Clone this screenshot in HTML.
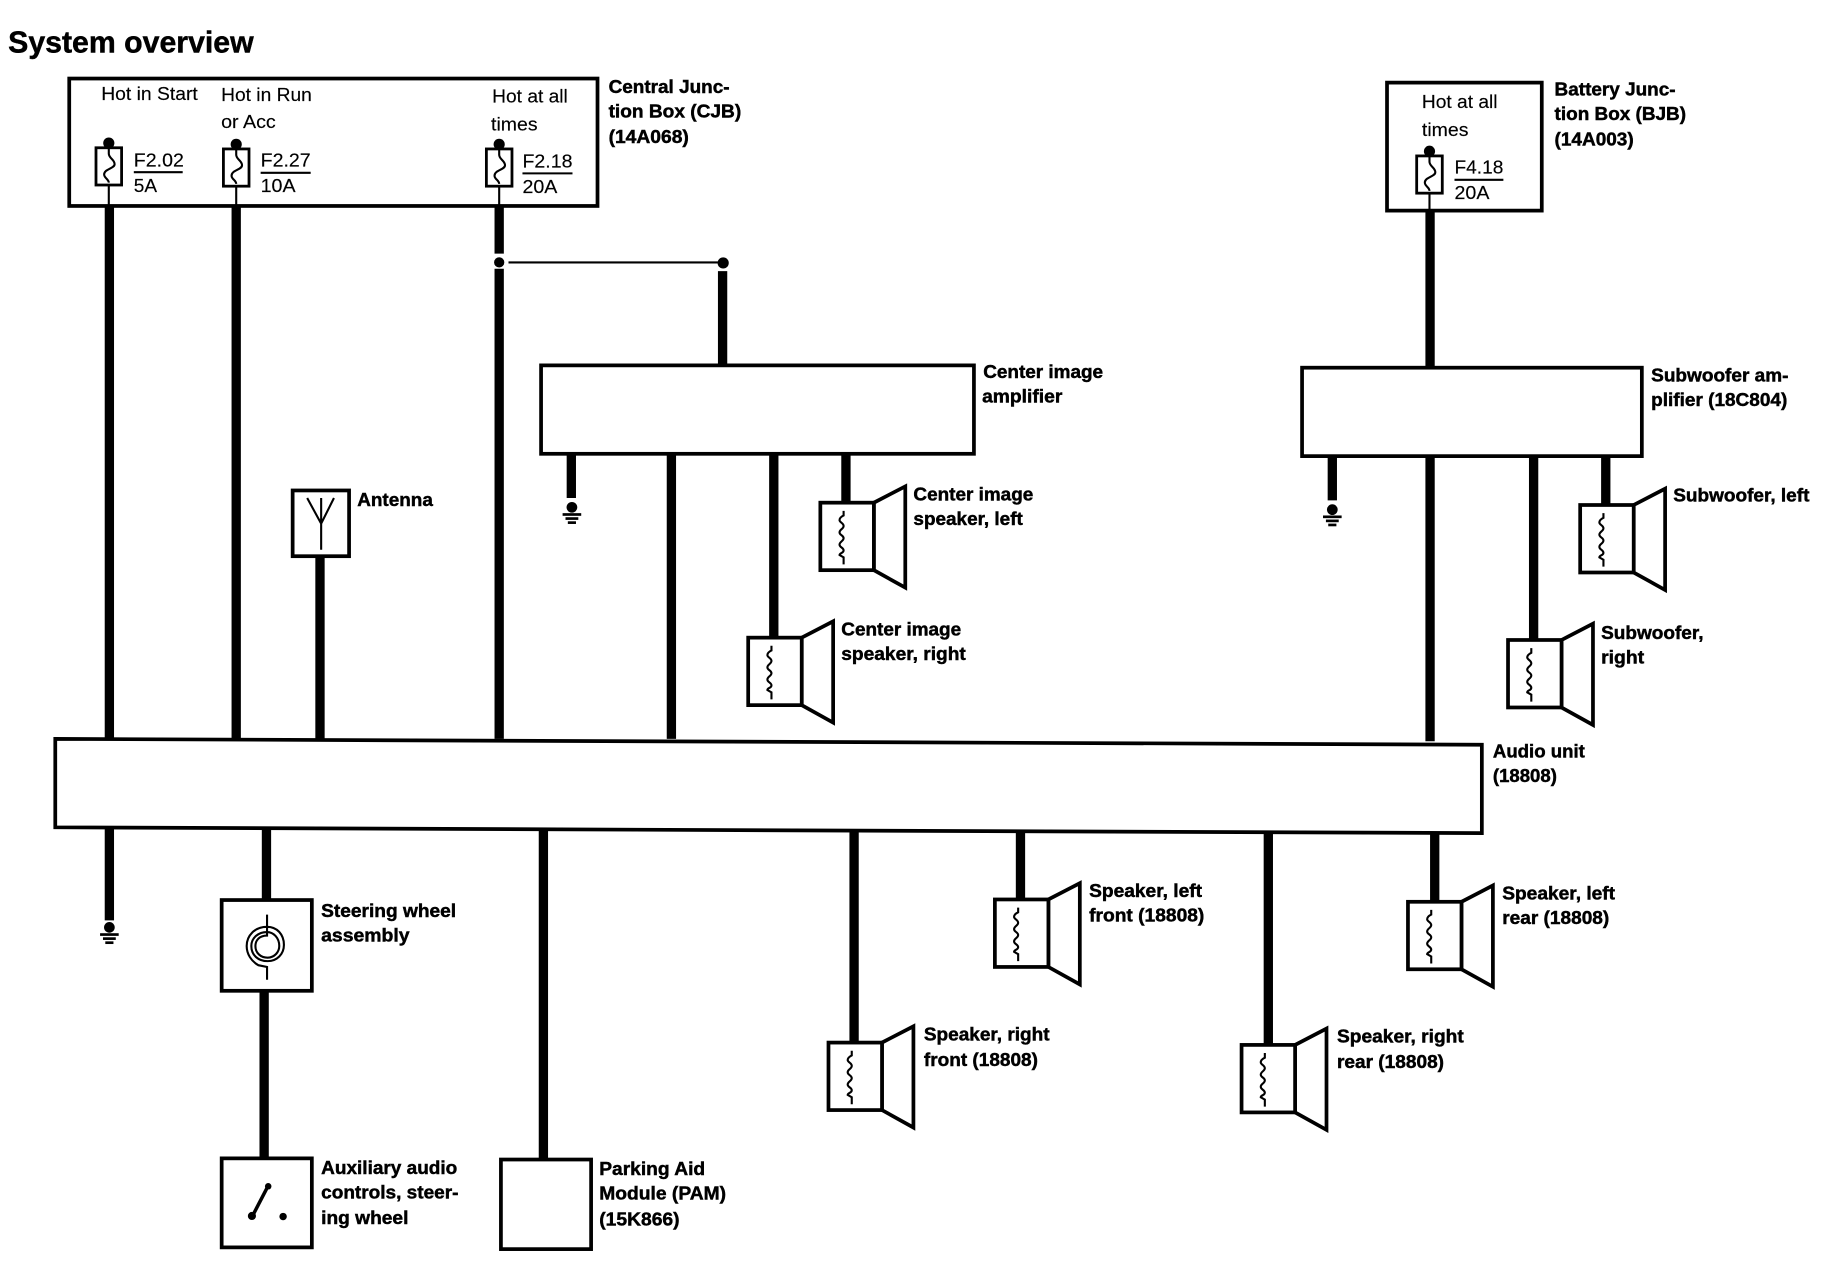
<!DOCTYPE html>
<html><head><meta charset="utf-8"><style>
html,body{margin:0;padding:0;background:#fff;width:1824px;height:1280px;overflow:hidden}
svg{display:block}
text{font-family:"Liberation Sans",sans-serif;fill:#000}
.b{font-weight:bold;font-size:16px;stroke:#000;stroke-width:.4px}
.r{font-size:16px;stroke:#000;stroke-width:.12px}
.w{stroke:#000;stroke-width:8;fill:none}
.x{stroke:#000;stroke-width:3.200;fill:#fff;stroke-linejoin:miter}
.t{stroke:#000;stroke-width:1.800;fill:none}
</style></head><body>
<svg width="1824" height="1280" viewBox="0 0 1824 1280" xmlns="http://www.w3.org/2000/svg">
<defs>
<g id="spk">
<path class="x" d="M46 0L73 -14V73L46 58Z"/>
<rect class="x" x="0" y="0" width="46" height="58"/>
<path class="t" d="M20 7V11c-2 1 -3.500 2 -3.500 4s3.500 2.500 3.500 5s-3.500 3 -3.500 5.500s3.500 2.500 3.500 5s-3.500 3 -3.500 5.500s3.500 2.500 3.500 5s-3.500 2 -3.500 4l3.500 2v6"/>
</g>
<g id="gnd">
<circle cx="0" cy="6" r="4.600" fill="#000"/>
<rect x="-8" y="11" width="16" height="2.300" fill="#000"/>
<rect x="-5.500" y="14.500" width="11" height="2.300" fill="#000"/>
<rect x="-3.500" y="18" width="7" height="2.300" fill="#000"/>
</g>
<g id="fuse">
<rect x="-11" y="0" width="22" height="32" stroke="#000" stroke-width="2.400" fill="#fff"/>
<circle cx="0" cy="-4" r="4.800" fill="#000"/>
<path class="t" d="M0 -1V5C0 9 5 10 5 14S-4 18 -4 23C-4 26 0 27 0 30"/>
</g>
</defs>
<g transform="scale(1.1636)">
<!-- wires -->
<g class="w">
<path d="M94 177V635M203 177V635M275 478V635M429 177V218M429 231V635M577 390V635M621 233V314M491 390V428M665 390V548M727 390V432"/>
<path d="M1229 181V316M1229 392V637M1145 392V430M1318 392V550M1380 392V434"/>
<path d="M94 712V791M229 713V773M227 852V995M467 714V996M734 715V896M877 715V773M1090 716V898M1233 717V775"/>
</g>
<!-- boxes -->
<rect class="x" x="59.500" y="67.500" width="454" height="109.500"/>
<rect class="x" x="1192" y="71" width="133" height="110"/>
<rect class="x" x="465" y="314" width="372" height="76"/>
<rect class="x" x="1119" y="316" width="292" height="76"/>
<rect class="x" x="251.500" y="421.500" width="48.500" height="56.500"/>
<path class="x" d="M47.500 635L1273.500 640V716L47.500 711Z"/>
<rect class="x" x="190.500" y="773.500" width="77.500" height="78"/>
<rect class="x" x="190.500" y="995.500" width="77.500" height="76.500"/>
<rect class="x" x="430.500" y="996.500" width="77.500" height="77"/>
<!-- fuses -->
<path class="t" d="M93.500 155V177M203 155V177M429 155V177M1228.500 160V181"/>
<use href="#fuse" x="93.500" y="127"/>
<use href="#fuse" x="203" y="128"/>
<use href="#fuse" x="429" y="128"/>
<use href="#fuse" x="1228.500" y="134"/>
<path class="t" d="M115 148H157M224 148.500H267M449 149H492M1250 154.500H1292"/>
<!-- junction -->
<circle cx="429" cy="225.500" r="4.400" fill="#000"/>
<circle cx="621.500" cy="226" r="4.800" fill="#000"/>
<path class="t" d="M437 225.500H617"/>
<!-- antenna -->
<path class="t" stroke-width="2.400" d="M276 428V472.500M264 428L276 450L287 428"/>
<!-- grounds -->
<use href="#gnd" x="491.500" y="430"/>
<use href="#gnd" x="1145" y="432"/>
<use href="#gnd" x="94" y="791"/>
<!-- speakers -->
<use href="#spk" x="705" y="432"/>
<use href="#spk" x="643" y="548"/>
<use href="#spk" x="1358" y="434"/>
<use href="#spk" x="1296" y="550"/>
<use href="#spk" x="855" y="773"/>
<use href="#spk" x="712" y="896"/>
<use href="#spk" x="1067" y="898"/>
<use href="#spk" x="1210" y="775"/>
<!-- steering icon -->
<path class="t" d="M229.500 786V804C223 804 219.500 808 219.500 813C219.500 819 224 823 230 823C236 823 240 818 240 813C240 806 235 801 229.500 801C222 801 216 806 216 813C216 821 222 826 230 826C238 826 244 820 244 812C244 803 238 796.500 229.500 796.500C219 796.500 212 804 212 813C212 820 216 826 222 829.500L229.500 831V842" stroke-width="2.200"/>
<!-- switch -->
<path d="M217 1045L230.500 1019" stroke="#000" stroke-width="3"/>
<circle cx="216.500" cy="1045" r="3.500" fill="#000"/>
<circle cx="230.500" cy="1019.500" r="2.800" fill="#000"/>
<circle cx="243.300" cy="1045.500" r="3.200" fill="#000"/>
<!-- title -->
<text x="7" y="45" font-size="26" font-weight="bold" textLength="211" lengthAdjust="spacingAndGlyphs" stroke="#000" stroke-width=".4">System overview</text>
<!-- regular labels -->
<g class="r">
<text x="87" y="86" textLength="83" lengthAdjust="spacingAndGlyphs">Hot in Start</text>
<text x="190" y="87" textLength="78" lengthAdjust="spacingAndGlyphs">Hot in Run</text>
<text x="190" y="110" textLength="47" lengthAdjust="spacingAndGlyphs">or Acc</text>
<text x="423" y="88" textLength="65" lengthAdjust="spacingAndGlyphs">Hot at all</text>
<text x="422" y="112" textLength="40" lengthAdjust="spacingAndGlyphs">times</text>
<text x="115" y="143" textLength="43" lengthAdjust="spacingAndGlyphs">F2.02</text>
<text x="115" y="165" textLength="20" lengthAdjust="spacingAndGlyphs">5A</text>
<text x="224" y="143" textLength="43" lengthAdjust="spacingAndGlyphs">F2.27</text>
<text x="224" y="165" textLength="30" lengthAdjust="spacingAndGlyphs">10A</text>
<text x="449" y="144" textLength="43" lengthAdjust="spacingAndGlyphs">F2.18</text>
<text x="449" y="166" textLength="30" lengthAdjust="spacingAndGlyphs">20A</text>
<text x="1222" y="93" textLength="65" lengthAdjust="spacingAndGlyphs">Hot at all</text>
<text x="1222" y="117" textLength="40" lengthAdjust="spacingAndGlyphs">times</text>
<text x="1250" y="149" textLength="42" lengthAdjust="spacingAndGlyphs">F4.18</text>
<text x="1250" y="171" textLength="30" lengthAdjust="spacingAndGlyphs">20A</text>
</g>
<!-- bold labels -->
<g class="b">
<text x="523" y="80" textLength="104" lengthAdjust="spacingAndGlyphs">Central Junc-</text>
<text x="523" y="101" textLength="114" lengthAdjust="spacingAndGlyphs">tion Box (CJB)</text>
<text x="523" y="123" textLength="69" lengthAdjust="spacingAndGlyphs">(14A068)</text>
<text x="1336" y="82" textLength="104" lengthAdjust="spacingAndGlyphs">Battery Junc-</text>
<text x="1336" y="103" textLength="113" lengthAdjust="spacingAndGlyphs">tion Box (BJB)</text>
<text x="1336" y="125" textLength="68" lengthAdjust="spacingAndGlyphs">(14A003)</text>
<text x="845" y="325" textLength="103" lengthAdjust="spacingAndGlyphs">Center image</text>
<text x="844" y="346" textLength="69" lengthAdjust="spacingAndGlyphs">amplifier</text>
<text x="1419" y="328" textLength="118" lengthAdjust="spacingAndGlyphs">Subwoofer am-</text>
<text x="1419" y="349" textLength="117" lengthAdjust="spacingAndGlyphs">plifier (18C804)</text>
<text x="307" y="435" textLength="65" lengthAdjust="spacingAndGlyphs">Antenna</text>
<text x="785" y="430" textLength="103" lengthAdjust="spacingAndGlyphs">Center image</text>
<text x="785" y="451" textLength="94" lengthAdjust="spacingAndGlyphs">speaker, left</text>
<text x="723" y="546" textLength="103" lengthAdjust="spacingAndGlyphs">Center image</text>
<text x="723" y="567" textLength="107" lengthAdjust="spacingAndGlyphs">speaker, right</text>
<text x="1438" y="431" textLength="117" lengthAdjust="spacingAndGlyphs">Subwoofer, left</text>
<text x="1376" y="549" textLength="88" lengthAdjust="spacingAndGlyphs">Subwoofer,</text>
<text x="1376" y="570" textLength="37" lengthAdjust="spacingAndGlyphs">right</text>
<text x="1283" y="651" textLength="79" lengthAdjust="spacingAndGlyphs">Audio unit</text>
<text x="1283" y="672" textLength="55" lengthAdjust="spacingAndGlyphs">(18808)</text>
<text x="276" y="788" textLength="116" lengthAdjust="spacingAndGlyphs">Steering wheel</text>
<text x="276" y="809" textLength="76" lengthAdjust="spacingAndGlyphs">assembly</text>
<text x="936" y="771" textLength="97" lengthAdjust="spacingAndGlyphs">Speaker, left</text>
<text x="936" y="792" textLength="99" lengthAdjust="spacingAndGlyphs">front (18808)</text>
<text x="1291" y="773" textLength="97" lengthAdjust="spacingAndGlyphs">Speaker, left</text>
<text x="1291" y="794" textLength="92" lengthAdjust="spacingAndGlyphs">rear (18808)</text>
<text x="794" y="894" textLength="108" lengthAdjust="spacingAndGlyphs">Speaker, right</text>
<text x="794" y="916" textLength="98" lengthAdjust="spacingAndGlyphs">front (18808)</text>
<text x="1149" y="896" textLength="109" lengthAdjust="spacingAndGlyphs">Speaker, right</text>
<text x="1149" y="918" textLength="92" lengthAdjust="spacingAndGlyphs">rear (18808)</text>
<text x="276" y="1009" textLength="117" lengthAdjust="spacingAndGlyphs">Auxiliary audio</text>
<text x="276" y="1030" textLength="118" lengthAdjust="spacingAndGlyphs">controls, steer-</text>
<text x="276" y="1052" textLength="75" lengthAdjust="spacingAndGlyphs">ing wheel</text>
<text x="515" y="1010" textLength="91" lengthAdjust="spacingAndGlyphs">Parking Aid</text>
<text x="515" y="1031" textLength="109" lengthAdjust="spacingAndGlyphs">Module (PAM)</text>
<text x="515" y="1053" textLength="69" lengthAdjust="spacingAndGlyphs">(15K866)</text>
</g>
</g>
</svg>
</body></html>
